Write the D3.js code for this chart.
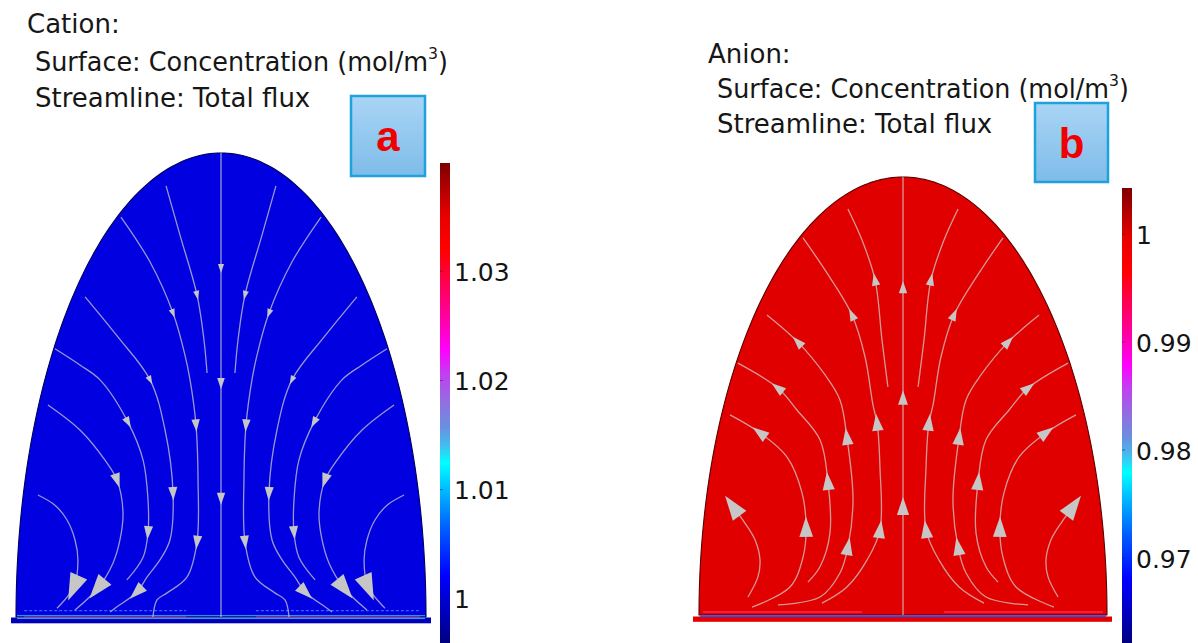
<!DOCTYPE html>
<html>
<head>
<meta charset="utf-8">
<script src="https://cdn.jsdelivr.net/npm/d3@7"></script>
<style>
  html, body { margin: 0; padding: 0; background: #ffffff; }
  svg { display: block; font-family: "DejaVu Sans", sans-serif; }
</style>
</head>
<body>
<svg id="chart" width="1198" height="643"></svg>
<script>
// ---------------------------------------------------------------
// Data
// ---------------------------------------------------------------

// Colour-bar ticks (mol/m^3)
const cationTicks = [1.00, 1.01, 1.02, 1.03];
const anionTicks  = [0.97, 0.98, 0.99, 1.00];

// Colour-bar value ranges (mol/m^3)
const cationRange = [0.99597, 1.0399];
const anionRange  = [0.96213, 1.00426];

// Colour map stops: [position from low (0) to high (1), colour]
const waveStops = [
  [0.00, "#000080"], [0.05, "#0000b0"], [0.14, "#0000ff"], [0.24, "#0060ff"],
  [0.31, "#00b0ff"], [0.375, "#00ffff"], [0.41, "#40c0f0"], [0.45, "#6a90e0"],
  [0.50, "#9070e0"], [0.56, "#c040f0"], [0.61, "#ff00ff"], [0.68, "#ff00a0"],
  [0.75, "#ff0050"], [0.82, "#ff0000"], [0.89, "#e80000"], [1.00, "#7f0000"]
];

// Total-flux streamlines, left half of the axisymmetric domain.
// Each point is [r, z, arrowSize?] with r in [-1, 0] and z in [0, 1],
// listed in the direction of the flux.
const cationAxis = [[0, 1.0], [0, 0.752, 8], [0, 0.504, 10], [0, 0.256, 11], [0, 0]];
const cationLines = [
  [[-0.268, 0.929], [-0.200, 0.823], [-0.117, 0.694, 8], [-0.083, 0.597], [-0.068, 0.526]],
  [[-0.488, 0.862], [-0.346, 0.765], [-0.234, 0.655, 8], [-0.176, 0.565], [-0.151, 0.511],
   [-0.122, 0.414, 11], [-0.112, 0.295], [-0.117, 0.162, 12], [-0.166, 0.086],
   [-0.263, 0.052], [-0.312, 0.037], [-0.332, 0.0]],
  [[-0.663, 0.690], [-0.502, 0.603], [-0.346, 0.511, 8], [-0.273, 0.403], [-0.234, 0.267, 12],
   [-0.249, 0.166], [-0.298, 0.123], [-0.361, 0.086], [-0.410, 0.054, 16], [-0.517, 0.019],
   [-0.541, 0.011]],
  [[-0.810, 0.578], [-0.688, 0.543], [-0.590, 0.511], [-0.454, 0.420, 10], [-0.380, 0.338],
   [-0.356, 0.252], [-0.356, 0.183, 12], [-0.380, 0.129], [-0.459, 0.080]],
  [[-0.844, 0.457], [-0.688, 0.403], [-0.566, 0.338], [-0.507, 0.295, 13], [-0.478, 0.224],
   [-0.493, 0.166], [-0.527, 0.116], [-0.600, 0.0625, 22], [-0.712, 0.015]],
  [[-0.893, 0.263], [-0.810, 0.241], [-0.751, 0.209], [-0.712, 0.166], [-0.698, 0.123],
   [-0.717, 0.065, 24], [-0.800, 0.019]]
];

const anionAxis = [[0, 0], [0, 0.247, 16], [0, 0.495, 13], [0, 0.747, 11], [0, 1.0]];
const anionLines = [
  [[-0.074, 0.521], [-0.103, 0.628], [-0.137, 0.765, 11], [-0.201, 0.856], [-0.270, 0.927]],
  [[-0.397, 0.027], [-0.275, 0.064], [-0.176, 0.126], [-0.113, 0.194, 16], [-0.113, 0.338],
   [-0.127, 0.438, 15], [-0.147, 0.479], [-0.186, 0.589], [-0.250, 0.685, 11],
   [-0.373, 0.781], [-0.490, 0.861]],
  [[-0.613, 0.023], [-0.407, 0.041], [-0.309, 0.096], [-0.270, 0.155, 16], [-0.245, 0.263],
   [-0.275, 0.406, 15], [-0.309, 0.491], [-0.382, 0.548], [-0.515, 0.623, 12], [-0.667, 0.685]],
  [[-0.466, 0.075], [-0.407, 0.110], [-0.358, 0.187], [-0.368, 0.304, 16], [-0.407, 0.400],
   [-0.520, 0.468], [-0.613, 0.518, 13], [-0.809, 0.575]],
  [[-0.740, 0.018], [-0.554, 0.064], [-0.490, 0.132], [-0.475, 0.199, 18], [-0.495, 0.279],
   [-0.569, 0.361], [-0.701, 0.416, 15], [-0.848, 0.457]],
  [[-0.760, 0.041], [-0.711, 0.087], [-0.701, 0.126], [-0.725, 0.171], [-0.775, 0.210],
   [-0.833, 0.247, 22]]
];

// ---------------------------------------------------------------
// Layout and styling
// ---------------------------------------------------------------
const panels = [
  {
    key: "cation", heading: "Cation:", tag: "a",
    ticks: cationTicks, range: cationRange, axis: cationAxis, lines: cationLines,
    domeX: [16, 426], domeY: [617, 153],
    fill: "#0000e1", edge: "#00005c",
    bar: { x: 440, w: 10, top: 163, bottom: 643 },
    text: { x: 27, y: 33, subX: 35, subY: [71, 107], subW: 413 },
    box: { x: 351, y: 96, w: 74, h: 80 },
    strip: { fill: "#0000b8", y0: 617.5, y1: 623.3, pad: [5, 5] }
  },
  {
    key: "anion", heading: "Anion:", tag: "b",
    ticks: anionTicks, range: anionRange, axis: anionAxis, lines: anionLines,
    domeX: [699, 1107], domeY: [615, 177],
    fill: "#e10000", edge: "#5a0000",
    bar: { x: 1122, w: 10, top: 188, bottom: 643 },
    text: { x: 708, y: 63, subX: 717, subY: [98, 133], subW: 412 },
    box: { x: 1035, y: 103, w: 73, h: 79 },
    strip: { fill: "#e40000", y0: 616.5, y1: 621.8, pad: [6, 5] }
  }
];

const arrowScale = 1.12;

const svg = d3.select("#chart");
const defs = svg.append("defs");

// colour-bar gradient (bottom = low, top = high)
const grad = defs.append("linearGradient")
  .attr("id", "waveGrad").attr("x1", 0).attr("y1", 1).attr("x2", 0).attr("y2", 0);
grad.selectAll("stop").data(waveStops).join("stop")
  .attr("offset", d => d[0]).attr("stop-color", d => d[1]);

// label box gradient
const boxGrad = defs.append("linearGradient")
  .attr("id", "boxGrad").attr("x1", 0).attr("y1", 0).attr("x2", 0).attr("y2", 1);
boxGrad.append("stop").attr("offset", 0).attr("stop-color", "#a9d5f5");
boxGrad.append("stop").attr("offset", 1).attr("stop-color", "#7ebce9");

const lineGen = d3.line().curve(d3.curveCatmullRom.alpha(0.5));

panels.forEach(p => {
  const g = svg.append("g").attr("class", p.key);
  const xs = d3.scaleLinear().domain([-1, 1]).range(p.domeX);
  const ys = d3.scaleLinear().domain([0, 1]).range(p.domeY);

  // --- headings ---
  const tg = g.append("g").attr("fill", "#161616").attr("font-size", 26);
  tg.append("text").attr("x", p.text.x).attr("y", p.text.y).text(p.heading);
  const s1 = tg.append("text").attr("x", p.text.subX).attr("y", p.text.subY[0]);
  s1.append("tspan").text("Surface: Concentration (mol/m");
  s1.append("tspan").attr("font-size", 16).attr("dy", -12).text("3");
  s1.append("tspan").attr("dy", 12).text(")");
  s1.attr("textLength", p.text.subW).attr("lengthAdjust", "spacingAndGlyphs");
  tg.append("text").attr("x", p.text.subX).attr("y", p.text.subY[1]).text("Streamline: Total flux");

  // --- electrode strip beneath the dome ---
  g.append("rect")
    .attr("x", xs(-1) - p.strip.pad[0]).attr("y", p.strip.y0)
    .attr("width", xs(1) - xs(-1) + p.strip.pad[0] + p.strip.pad[1])
    .attr("height", p.strip.y1 - p.strip.y0)
    .attr("fill", p.strip.fill);

  // --- dome (half ellipse) ---
  const thetas = d3.range(0, 181).map(a => a * Math.PI / 180);
  const domePts = thetas.map(t => [xs(-Math.cos(t)), ys(Math.sin(t))]);
  g.append("path")
    .attr("d", d3.line()(domePts) + "Z")
    .attr("fill", p.fill)
    .attr("stroke", p.edge).attr("stroke-width", 1.1);

  // --- thin boundary layer at the electrode ---
  const base = ys(0);
  if (p.key === "cation") {
    [[-0.96, -0.17], [0.17, 0.97]].forEach(([a, b]) => {
      g.append("line").attr("x1", xs(a)).attr("x2", xs(b)).attr("y1", base - 6.3).attr("y2", base - 6.3)
        .attr("stroke", "#4f78ff").attr("stroke-width", 1.2).attr("stroke-dasharray", "3,2").attr("opacity", 0.8);
      g.append("line").attr("x1", xs(a)).attr("x2", xs(b)).attr("y1", base).attr("y2", base)
        .attr("stroke", "#c0308a").attr("stroke-width", 1.2);
    });
    g.append("line").attr("x1", xs(-1) + 1).attr("x2", xs(1) - 1).attr("y1", base - 1.4).attr("y2", base - 1.4)
      .attr("stroke", "#2f8fe8").attr("stroke-width", 1.2);
    g.append("line").attr("x1", xs(-1) + 1).attr("x2", xs(1) - 1).attr("y1", base + 1.4).attr("y2", base + 1.4)
      .attr("stroke", "#3a9ae8").attr("stroke-width", 1.1);
  } else {
    [[-0.98, -0.2], [0.2, 0.98]].forEach(([a, b]) => {
      g.append("line").attr("x1", xs(a)).attr("x2", xs(b)).attr("y1", base - 3).attr("y2", base - 3)
        .attr("stroke", "#ff3a7a").attr("stroke-width", 1.5).attr("opacity", 0.7);
    });
    g.append("line").attr("x1", xs(-1) + 1).attr("x2", xs(1) - 1).attr("y1", base + 1.2).attr("y2", base + 1.2)
      .attr("stroke", "#4646d6").attr("stroke-width", 2);
  }

  // --- streamlines ---
  const sg = g.append("g");
  const all = [p.axis];
  p.lines.forEach(l => {
    all.push(l);
    all.push(l.map(d => d.length > 2 ? [-d[0], d[1], d[2]] : [-d[0], d[1]]));
  });
  all.forEach(line => {
    const px = line.map(d => [xs(d[0]), ys(d[1])]);
    sg.append("path")
      .attr("d", lineGen(px))
      .attr("fill", "none")
      .attr("stroke", "#d2d2d2").attr("stroke-opacity", 0.72)
      .attr("stroke-width", 1.3);
    line.forEach((d, i) => {
      if (d.length < 3) return;
      const s = d[2] * arrowScale;
      const a = px[Math.max(i - 1, 0)], b = px[Math.min(i + 1, px.length - 1)];
      let dx = b[0] - a[0], dy = b[1] - a[1];
      const n = Math.hypot(dx, dy) || 1; dx /= n; dy /= n;
      const c = px[i];
      const tip = [c[0] + dx * s * 0.55, c[1] + dy * s * 0.55];
      const bc = [c[0] - dx * s * 0.45, c[1] - dy * s * 0.45];
      const w = s * 0.34;
      const tri = [tip, [bc[0] - dy * w, bc[1] + dx * w], [bc[0] + dy * w, bc[1] - dx * w]];
      sg.append("path").attr("d", d3.line()(tri) + "Z").attr("fill", "#c6c6c6");
    });
  });

  // --- colour bar ---
  const cy = d3.scaleLinear().domain(p.range).range([p.bar.bottom, p.bar.top]);
  g.append("rect")
    .attr("x", p.bar.x).attr("y", cy(p.range[1]))
    .attr("width", p.bar.w).attr("height", cy(p.range[0]) - cy(p.range[1]))
    .attr("fill", "url(#waveGrad)");
  g.selectAll(".btick").data(p.ticks).join("line")
    .attr("x1", p.bar.x).attr("x2", p.bar.x + 3)
    .attr("y1", d => cy(d)).attr("y2", d => cy(d))
    .attr("stroke", "#222").attr("stroke-opacity", 0.5);
  const ax = g.append("g")
    .attr("transform", `translate(${p.bar.x + p.bar.w},0)`)
    .call(d3.axisRight(cy).tickValues(p.ticks).tickSize(0).tickPadding(4)
      .tickFormat(d => String(+d.toFixed(2))));
  ax.select(".domain").remove();
  ax.attr("font-family", "DejaVu Sans, sans-serif").attr("font-size", 25);
  ax.selectAll("text").attr("fill", "#141414").attr("dy", "0.36em");

  // --- panel tag box ---
  g.append("rect")
    .attr("x", p.box.x).attr("y", p.box.y).attr("width", p.box.w).attr("height", p.box.h)
    .attr("fill", "url(#boxGrad)").attr("stroke", "#1ea2dc").attr("stroke-width", 2.5);
  g.append("text")
    .attr("x", p.box.x + p.box.w / 2).attr("y", p.box.y + p.box.h * 0.69)
    .attr("text-anchor", "middle")
    .attr("font-family", "Liberation Sans, Arial, sans-serif")
    .attr("font-weight", "bold").attr("font-size", 42)
    .attr("fill", "#f00000").text(p.tag);
});
</script>
</body>
</html>
